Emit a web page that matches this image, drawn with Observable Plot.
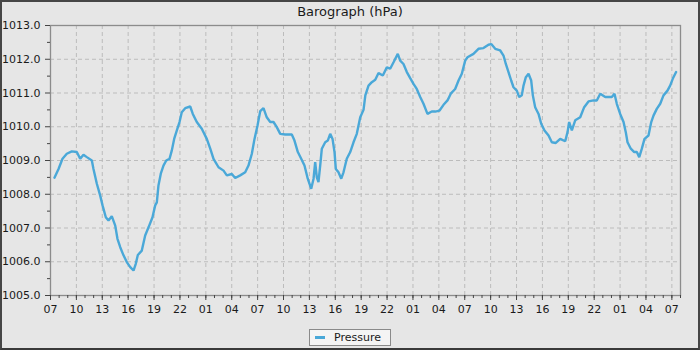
<!DOCTYPE html>
<html>
<head>
<meta charset="utf-8">
<script src="https://cdn.jsdelivr.net/npm/d3@7"></script>
<script src="https://cdn.jsdelivr.net/npm/@observablehq/plot@0.6"></script>
<style>
  html, body { margin: 0; padding: 0; background: #e6e6e6; }
  #wrap { position: relative; width: 700px; height: 350px; background: #e6e6e6; overflow: hidden;
          font-family: "DejaVu Sans", sans-serif; }
  #title { position: absolute; top: 4px; left: 0; width: 700px; text-align: center;
           font-size: 13px; line-height: 15px; color: #1a1a1a; }
  #chart { position: absolute; left: 0; top: 0; }
  #legend { position: absolute; left: 309px; top: 329px; width: 82px; height: 17px; box-sizing: border-box;
            border: 1px solid #8a8a8a; background: #f4f4f4; display: flex; align-items: center;
            font-size: 11px; color: #1a1a1a; }
  #legend .sw { display: inline-block; width: 10px; height: 3px; background: #4aa8d8; margin-left: 5px; margin-right: 9px; }
  #frame { position: absolute; left: 0; top: 0; width: 700px; height: 350px; box-sizing: border-box;
           border: 2px solid #464646; border-bottom-color: #3a3a3a; pointer-events: none; }
</style>
</head>
<body>
<div id="wrap">
  <div id="title">Barograph (hPa)</div>
  <div id="chart"></div>
  <div id="legend"><span class="sw"></span><span>Pressure</span></div>
  <div id="frame"></div>
</div>
<script>
// Hours elapsed since the first 07:00 on the time axis
const hours = [
  0.46, 0.93, 1.39, 1.89, 2.47, 3.05, 3.44, 3.82, 4.21, 4.79, 4.98, 5.37, 5.76, 6.03, 6.41, 6.72,
  7.10, 7.50, 7.76, 8.08, 8.46, 8.84, 9.24, 9.62, 9.88, 10.12, 10.58, 10.97, 11.36, 11.82, 12.13,
  12.32, 12.51, 12.78, 13.09, 13.41, 13.79, 14.06, 14.33, 14.64, 14.95, 15.21, 15.61, 16.19, 16.49,
  16.95, 17.53, 18.11, 18.51, 18.89, 19.47, 20.05, 20.43, 21.01, 21.40, 21.98, 22.56, 22.94, 23.33,
  23.64, 23.99, 24.30, 24.68, 25.06, 25.46, 25.84, 26.22, 26.62, 27.20, 27.96, 28.27, 28.66, 29.05,
  29.43, 29.81, 30.21, 30.48, 30.67, 30.86, 31.05, 31.25, 31.44, 31.83, 32.13, 32.41, 32.68, 32.91,
  33.06, 33.37, 33.69, 33.95, 34.33, 34.73, 35.11, 35.49, 35.89, 36.27, 36.48, 36.85, 37.23, 37.63,
  38.01, 38.51, 38.97, 39.36, 39.75, 40.24, 40.52, 40.90, 41.29, 41.68, 42.06, 42.44, 42.84, 43.22,
  43.68, 44.18, 44.58, 45.08, 45.54, 46.00, 46.38, 46.89, 47.28, 47.66, 48.05, 48.32, 49.01, 49.59,
  50.17, 50.75, 51.07, 51.53, 52.11, 52.49, 52.76, 53.07, 53.38, 53.65, 54.03, 54.31, 54.61, 54.81,
  55.08, 55.39, 55.70, 55.89, 56.16, 56.55, 56.86, 57.24, 57.71, 58.09, 58.55, 59.06, 59.64, 59.91,
  60.10, 60.41, 60.80, 61.38, 61.84, 62.34, 62.92, 63.30, 63.70, 64.28, 64.66, 65.04, 65.35, 65.62,
  66.01, 66.40, 66.66, 66.86, 67.24, 67.64, 67.94, 68.22, 68.52, 68.83, 69.29, 69.61, 69.87, 70.25,
  70.65, 71.03, 71.49, 71.80, 72.10, 72.49
];
const pressure = [
  1008.49, 1008.75, 1009.05, 1009.20, 1009.27, 1009.25, 1009.05, 1009.17, 1009.10, 1009.00, 1008.75, 1008.31, 1007.96, 1007.67, 1007.32, 1007.22,
  1007.35, 1007.07, 1006.68, 1006.43, 1006.19, 1005.99, 1005.84, 1005.74, 1005.94, 1006.20, 1006.33, 1006.78, 1007.02, 1007.32, 1007.67,
  1007.76, 1008.26, 1008.61, 1008.85, 1009.00, 1009.05, 1009.30, 1009.64, 1009.89, 1010.14, 1010.43, 1010.55, 1010.60, 1010.38,
  1010.14, 1009.94, 1009.64, 1009.35, 1009.05, 1008.80, 1008.70, 1008.56, 1008.60, 1008.48, 1008.56, 1008.65, 1008.85, 1009.20,
  1009.64, 1010.04, 1010.46, 1010.55, 1010.28, 1010.14, 1010.14, 1009.99, 1009.79, 1009.77, 1009.77, 1009.59, 1009.25, 1009.05,
  1008.85, 1008.46, 1008.16, 1008.46, 1008.95, 1008.50, 1008.36, 1008.85, 1009.35, 1009.54, 1009.59, 1009.79, 1009.64, 1009.25,
  1008.75, 1008.65, 1008.46, 1008.65, 1009.05, 1009.25, 1009.54, 1009.79, 1010.28, 1010.50, 1010.93, 1011.22, 1011.32, 1011.39,
  1011.59, 1011.52, 1011.76, 1011.72, 1011.91, 1012.16, 1011.96, 1011.86, 1011.62, 1011.44, 1011.27, 1011.12, 1010.88, 1010.68,
  1010.38, 1010.45, 1010.45, 1010.48, 1010.65, 1010.78, 1010.98, 1011.12, 1011.37, 1011.57, 1011.96, 1012.06, 1012.16, 1012.31,
  1012.33, 1012.43, 1012.45, 1012.31, 1012.26, 1012.11, 1011.86, 1011.62, 1011.37, 1011.17, 1011.07, 1010.88, 1010.93, 1011.22,
  1011.47, 1011.57, 1011.37, 1010.93, 1010.58, 1010.38, 1010.09, 1009.89, 1009.74, 1009.54, 1009.52, 1009.64, 1009.57, 1009.84,
  1010.14, 1009.89, 1010.19, 1010.28, 1010.58, 1010.75, 1010.78, 1010.78, 1010.98, 1010.88, 1010.88, 1010.88, 1010.98, 1010.68,
  1010.38, 1010.14, 1009.84, 1009.54, 1009.35, 1009.25, 1009.25, 1009.10, 1009.35, 1009.64, 1009.74, 1010.14, 1010.33, 1010.53,
  1010.68, 1010.93, 1011.07, 1011.22, 1011.42, 1011.62
];
const seriesName = "Pressure";
const xDomainHours = [0, 73];
const xMajorHours = d3.range(0, 73, 3);   // 07, 10, 13, ...
const xMinorHours = d3.range(0, 74, 1);
const yMajor = [1005, 1006, 1007, 1008, 1009, 1010, 1011, 1012, 1013];
const yMinor = [1005.5, 1006.5, 1007.5, 1008.5, 1009.5, 1010.5, 1011.5, 1012.5];

const start = Date.UTC(2024, 0, 1, 7);
const toDate = h => new Date(start + h * 3600e3);
const data = hours.map((h, i) => ({ t: toDate(h), p: pressure[i] }));
const xMajor = xMajorHours.map(toDate);
const xMinor = xMinorHours.map(toDate);

const lineColor = "#4aa8d8";
const gridStyle = { stroke: "#bcbcbc", strokeOpacity: 1, strokeWidth: 1, strokeDasharray: "4,3" };

const chart = Plot.plot({
  width: 700,
  height: 320,
  marginLeft: 50,
  marginRight: 20,
  marginTop: 25,
  marginBottom: 25,
  style: { background: "transparent", fontFamily: "DejaVu Sans", fontSize: "11px", color: "#1a1a1a", overflow: "visible" },
  x: { type: "utc", domain: xDomainHours.map(toDate) },
  y: { domain: [1005, 1013] },
  marks: [
    Plot.gridX(xMajor, gridStyle),
    Plot.gridY(yMajor, gridStyle),
    Plot.line(data, { x: "t", y: "p", stroke: lineColor, strokeWidth: 2.4, strokeLinejoin: "miter" }),
    Plot.frame({ stroke: "#8c8c8c", strokeWidth: 1.3 }),
    Plot.axisX(xMinor, { tickSize: 3, tickFormat: () => "", label: null, stroke: "#444" }),
    Plot.axisX(xMajor, { tickSize: 5, tickPadding: 5, tickFormat: d3.utcFormat("%H"), label: null, stroke: "#444", fill: "#1a1a1a" }),
    Plot.axisY(yMinor, { tickSize: 3, tickFormat: () => "", label: null, stroke: "#444" }),
    Plot.axisY(yMajor, { tickSize: 5, tickPadding: 5, tickFormat: d => d.toFixed(1), label: null, stroke: "#444", fill: "#1a1a1a" })
  ]
});
document.getElementById("chart").appendChild(chart);
</script>
</body>
</html>
